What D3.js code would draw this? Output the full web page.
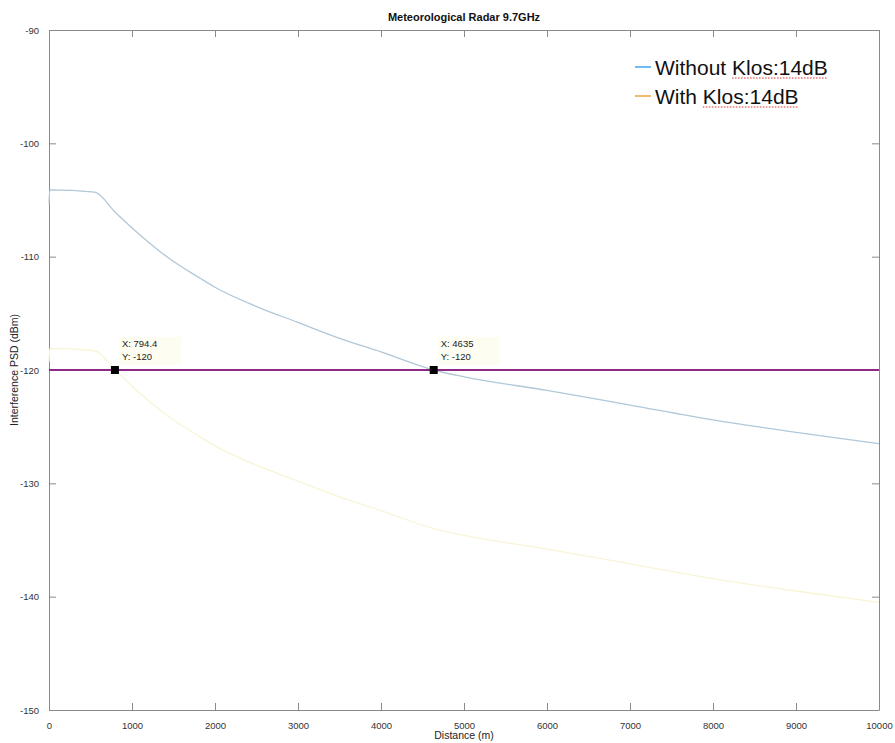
<!DOCTYPE html>
<html><head><meta charset="utf-8">
<script src="https://cdn.jsdelivr.net/npm/d3@7"></script>
<style>
body{margin:0;background:#fff;}
text{font-family:"Liberation Sans",Arial,sans-serif;}
</style></head>
<body><svg id="c" width="895" height="743"></svg>
<script>
const distances = [0, 10, 550, 800, 1100, 1420, 1820, 2000, 2500, 3000, 3500, 4000, 4635, 5000, 6000, 7000, 8000, 9000, 10000];
const withoutKlos = [-105.3, -104.1, -104.3, -106.1, -108.1, -110.0, -111.9, -112.7, -114.4, -115.8, -117.2, -118.4, -120.0, -120.6, -121.8, -123.1, -124.4, -125.5, -126.5];
const withKlos = [-119.3, -118.1, -118.3, -120.0, -122.1, -124.0, -125.9, -126.7, -128.4, -129.8, -131.2, -132.4, -134.0, -134.6, -135.8, -137.1, -138.4, -139.5, -140.5];
const threshold = -120;
const dataTips = [{x: 794.4, y: -120}, {x: 4635, y: -120}];
const xTicks = [0,1000,2000,3000,4000,5000,6000,7000,8000,9000,10000];
const yTicks = [-90,-100,-110,-120,-130,-140,-150];
const seriesNames = ["Without Klos:14dB", "With Klos:14dB"];
const legendColors = ["#3ea6ee", "#f3a040"];
const lineColors = ["#b0c8d8", "#f8f5d6"];

const svg = d3.select("#c");
const L = 49, R = 879, T = 30, B = 710;
const x = d3.scaleLinear().domain([0, 10000]).range([L, R]);
const y = d3.scaleLinear().domain([-150, -90]).range([B, T]);
const axisColor = "#8a8a8a";
const fmt = d => String(d);

function styleAxis(g, showLabels) {
  g.select(".domain").attr("stroke", axisColor);
  g.selectAll(".tick line").attr("stroke", axisColor);
  g.selectAll(".tick text").attr("fill", "#333").style("font-size", "9.5px")
    .style("display", showLabels ? null : "none");
}
svg.append("g").attr("transform", `translate(0,${B})`)
  .call(d3.axisBottom(x).tickValues(xTicks).tickSize(-7).tickSizeOuter(0).tickPadding(12).tickFormat(fmt))
  .call(g => styleAxis(g, true));
svg.append("g").attr("transform", `translate(0,${T})`)
  .call(d3.axisTop(x).tickValues(xTicks).tickSize(-7).tickSizeOuter(0).tickFormat(""))
  .call(g => styleAxis(g, false));
svg.append("g").attr("transform", `translate(${L},0)`)
  .call(d3.axisLeft(y).tickValues(yTicks).tickSize(-7).tickSizeOuter(0).tickPadding(10).tickFormat(fmt))
  .call(g => styleAxis(g, true));
svg.append("g").attr("transform", `translate(${R},0)`)
  .call(d3.axisRight(y).tickValues(yTicks).tickSize(-7).tickSizeOuter(0).tickFormat(""))
  .call(g => styleAxis(g, false));

const line = d3.line().x(d => x(d[0])).y(d => y(d[1])).curve(d3.curveMonotoneX);
[withoutKlos, withKlos].forEach((vals, i) => {
  svg.append("path").datum(distances.map((d, j) => [d, vals[j]]))
    .attr("d", line).attr("fill", "none").attr("stroke", lineColors[i]).attr("stroke-width", 1.3);
});

svg.append("path").datum([[0, threshold], [10000, threshold]])
  .attr("d", d3.line().x(d => x(d[0])).y(d => y(d[1]))).attr("fill", "none").attr("stroke", "#8e2a86").attr("stroke-width", 2);

dataTips.forEach(t => {
  const g = svg.append("g");
  g.append("rect").attr("x", x(t.x) + 4).attr("y", y(t.y) - 33).attr("width", 62).attr("height", 28)
    .attr("fill", "#fdfbe8").attr("opacity", 0.6);
  g.append("rect").attr("x", x(t.x) - 4).attr("y", y(t.y) - 4).attr("width", 8).attr("height", 8).attr("fill", "#000");
  g.append("text").attr("x", x(t.x) + 7).attr("y", y(t.y) - 23).style("font-size", "9.5px").attr("fill", "#222")
    .text("X: " + t.x);
  g.append("text").attr("x", x(t.x) + 7).attr("y", y(t.y) - 10).style("font-size", "9.5px").attr("fill", "#222")
    .text("Y: " + t.y);
});

svg.append("text").attr("x", 464).attr("y", 21).attr("text-anchor", "middle")
  .style("font-size", "11px").style("font-weight", "bold").attr("fill", "#111").text("Meteorological Radar 9.7GHz");
svg.append("text").attr("x", 464).attr("y", 739).attr("text-anchor", "middle")
  .style("font-size", "10.5px").attr("fill", "#222").text("Distance (m)");
svg.append("text").attr("transform", `translate(18,${(T + B) / 2}) rotate(-90)`).attr("text-anchor", "middle")
  .style("font-size", "10.5px").attr("fill", "#222").text("Interference PSD (dBm)");

seriesNames.forEach((name, i) => {
  const yy = 67 + i * 29;
  svg.append("line").attr("x1", 635).attr("x2", 651).attr("y1", yy).attr("y2", yy)
    .attr("stroke", legendColors[i]).attr("stroke-width", 1.5);
  const t = svg.append("text").attr("x", 655).attr("y", yy + 8).style("font-size", "21px").attr("fill", "#111").text(name);
  const node = t.node();
  const idx = name.indexOf("Klos");
  const start = node.getSubStringLength(0, idx);
  const len = node.getSubStringLength(idx, name.length - idx);
  svg.append("line").attr("x1", 655 + start).attr("x2", 655 + start + len)
    .attr("y1", yy + 11).attr("y2", yy + 11)
    .attr("stroke", "#e03030").attr("stroke-width", 1.2).attr("stroke-dasharray", "1.5,1.5");
});
</script></body></html>
